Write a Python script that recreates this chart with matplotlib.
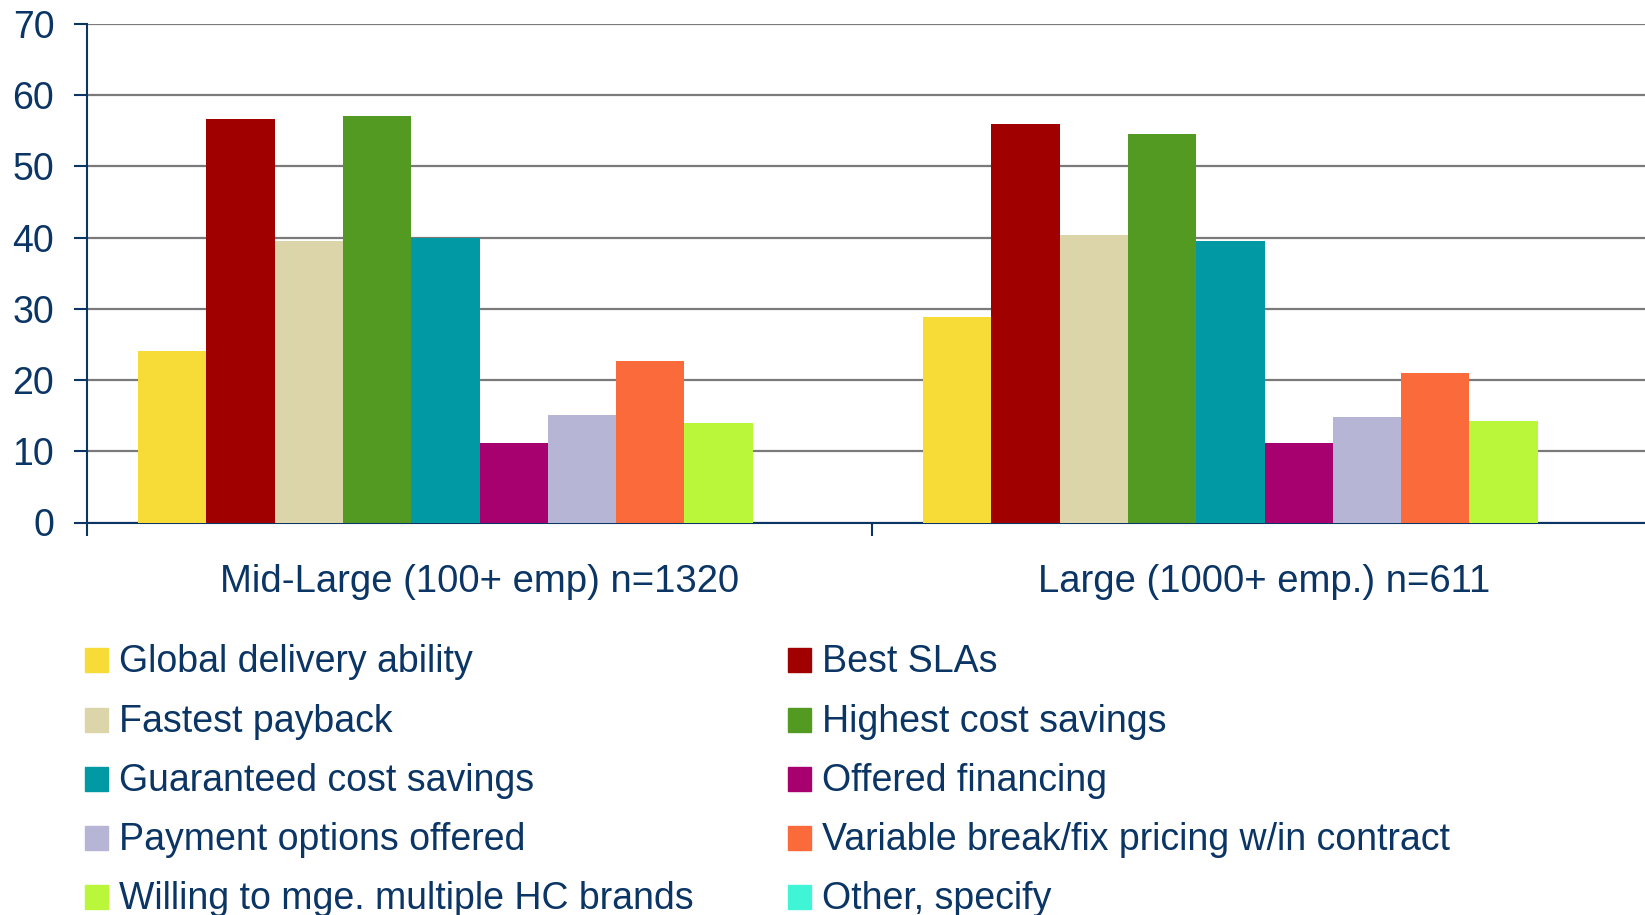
import numpy as np
import matplotlib
matplotlib.use('Agg')
import matplotlib.pyplot as plt
from matplotlib.patches import Rectangle

plt.rcParams['font.family'] = ['Liberation Sans', 'DejaVu Sans']

# data
groups = ['Mid-Large (100+ emp) n=1320', 'Large (1000+ emp.) n=611']
series = ['Global delivery ability', 'Best SLAs', 'Fastest payback',
          'Highest cost savings', 'Guaranteed cost savings', 'Offered financing',
          'Payment options offered', 'Variable break/fix pricing w/in contract',
          'Willing to mge. multiple HC brands', 'Other, specify']
mid_large = [24.1, 56.6, 39.5, 57.1, 39.9, 11.2, 15.1, 22.7, 14.0, 0.0]
large = [28.9, 56.0, 40.4, 54.6, 39.5, 11.2, 14.8, 21.0, 14.3, 0.0]
colors = ['#F7DC37', '#A10000', '#DDD5AA', '#529A22', '#0099A4',
          '#A7006F', '#B6B5D6', '#FA6A3A', '#BAF73A', '#3FF5D5']

navy = '#0B3564'
W, H = 1645, 915

fig = plt.figure(figsize=(W / 100, H / 100), dpi=100)
ax = fig.add_axes([87 / W, 1 - 522.5 / H, 1570 / W, 498.5 / H])

x = np.arange(len(groups))
bw = 0.087
for i, name in enumerate(series):
    vals = [mid_large[i], large[i]]
    ax.bar(x + (i - 4.5) * bw, vals, width=bw, color=colors[i], label=name, zorder=3)

ax.set_xlim(-0.5, 1.5)
ax.set_ylim(0, 70)
ax.set_yticks(range(0, 71, 10))
ax.yaxis.grid(True, color='#7a7a7a', linewidth=1.6)
ax.set_axisbelow(True)

ax.set_xticks(x)
ax.set_xticklabels(groups)
ax.set_xticks([-0.5, 0.5, 1.5], minor=True)
ax.tick_params(axis='x', which='major', length=0, pad=30, labelsize=27.5, labelcolor=navy)
ax.tick_params(axis='x', which='minor', length=9.5, width=1.5, color=navy, direction='out')
ax.tick_params(axis='y', length=9.5, width=1.5, color=navy, direction='out',
               pad=14, labelsize=27, labelcolor=navy)

for s in ['top', 'right']:
    ax.spines[s].set_visible(False)
ax.spines['left'].set_color(navy)
ax.spines['left'].set_linewidth(1.5)
ax.spines['bottom'].set_color(navy)
ax.spines['bottom'].set_linewidth(1.5)

# legend, two columns, drawn by hand to match the layout
row_y = [660, 720, 779, 838, 897]
col_x = [85, 788]
for i, name in enumerate(series):
    col, row = i % 2, i // 2
    cx, cy = col_x[col], row_y[row]
    fig.add_artist(Rectangle((cx / W, 1 - (cy + 12) / H), 23 / W, 24 / H,
                             transform=fig.transFigure, color=colors[i]))
    fig.text((cx + 34) / W, 1 - (cy + 12) / H, name, fontsize=27, color=navy,
             va='baseline', ha='left')

fig.savefig('out.png', dpi=100)
